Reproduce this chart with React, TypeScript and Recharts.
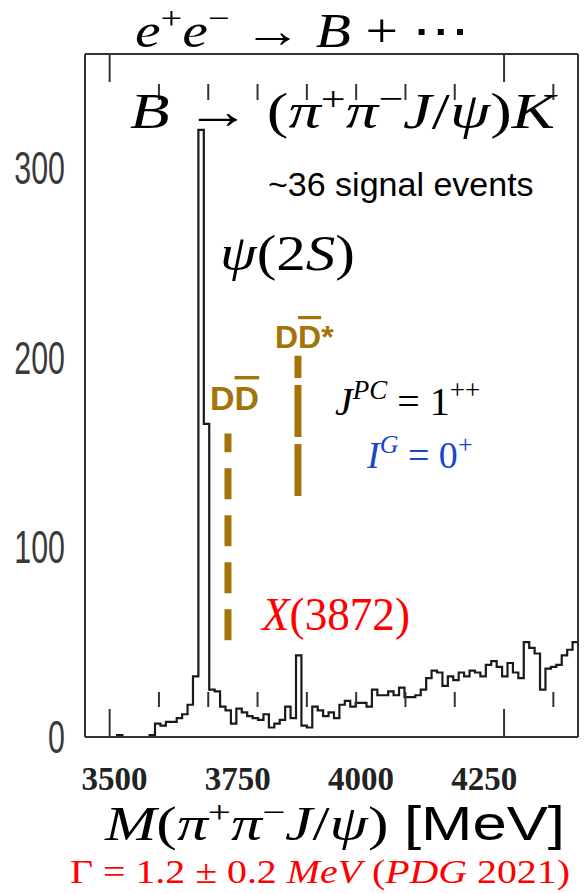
import React from "react";
import { LineChart, Line, XAxis, YAxis, ReferenceLine } from "recharts";

// histogram of M(pi+ pi- J/psi), bins
const binStart = 3450;
const binWidth = 11;
const counts = [
  0, 0, 0, 0, 0, 1, 0, 0, 0, 0, 0,
  1, 7, 6, 8, 8, 10, 12, 17, 32, 320, 165,
  25, 24, 16, 14, 7, 15, 13, 11, 10, 9, 12, 5, 7, 9, 16, 10,
  43,
  6, 5, 16, 14, 11, 13, 10, 17, 19, 16, 18, 18, 16, 25, 22, 22, 24, 22, 26, 21,
  21, 22, 25, 31, 35, 34, 27, 32, 30, 34, 32, 35, 34, 32, 38, 40, 37, 32, 39, 34,
  31, 50, 47, 44, 25, 36, 37, 38, 43, 46, 50,
];

const xDomain = [3440, 4440];
const yDomain = [0, 360];
const xLabelTicks = [3500, 3750, 4000, 4250];
const xMajorTicks = [3490, 4290];
const xMinorTicks = [3590, 3690, 3790, 3890, 3990, 4090, 4190, 4390];
const yLabelTicks = [0, 100, 200, 300];
const yMajorTicks = [100, 200, 300];
const yMinorTicks = [20, 40, 60, 80, 120, 140, 160, 180, 220, 240, 260, 280, 320, 340];

// D Dbar and D Dbar* thresholds (MeV) with the y range of the dashed marker
const thresholds = [
  { m: 3730, from: 51, to: 160 },
  { m: 3872, from: 127, to: 201 },
];

const hist = [
  { m: xDomain[0], n: 0 },
  ...counts.map((c, i) => ({ m: binStart + i * binWidth, n: c })),
  { m: binStart + counts.length * binWidth, n: counts[counts.length - 1] },
];

const SERIF = "'Liberation Serif', 'DejaVu Serif', serif";
const SANS = "'Liberation Sans', Arial, sans-serif";
const FRAME = "#333";
const GOLD = "#A37408";
const BLUE = "#1846C9";
const RED = "#FF0000";

const YTick = ({ x, y, payload }: any) => (
  <text
    transform={`translate(${x - 20},${y + 16}) scale(0.66,1)`}
    textAnchor="end"
    fontFamily={SANS}
    fontSize={46}
    fill="#3a3a3a"
  >
    {payload.value}
  </text>
);

const XTick = ({ x, y, payload }: any) => (
  <text
    x={x}
    y={y + 53}
    textAnchor="middle"
    fontFamily={SERIF}
    fontWeight="bold"
    fontSize={33}
    fill="#222"
  >
    {payload.value}
  </text>
);

const NoLabel = () => <g />;

const line = { stroke: FRAME, strokeWidth: 2 };

function Notes() {
  const it = { fontStyle: "italic" as const };
  const fit = "spacingAndGlyphs";
  return (
    <svg
      width={584}
      height={894}
      style={{ position: "absolute", left: 0, top: 0, pointerEvents: "none" }}
    >
      <g fontFamily={SERIF} fill="#000" style={{ whiteSpace: "pre" }}>
        <text x={135} y={47} fontSize={48} textLength={335} lengthAdjust={fit}>
          <tspan {...it}>e</tspan>
          <tspan dy={-18} fontSize={32}>+</tspan>
          <tspan dy={18} {...it}>e</tspan>
          <tspan dy={-18} fontSize={32}>−</tspan>
          <tspan dy={18}> → </tspan>
          <tspan {...it}>B</tspan>
          <tspan> + ⋯</tspan>
        </text>
        <text x={130} y={128} fontSize={50} textLength={425} lengthAdjust={fit}>
          <tspan {...it}>B</tspan>
          <tspan> → (</tspan>
          <tspan {...it}>π</tspan>
          <tspan dy={-18} fontSize={34}>+</tspan>
          <tspan dy={18} {...it}>π</tspan>
          <tspan dy={-18} fontSize={34}>−</tspan>
          <tspan dy={18} {...it}>J</tspan>
          <tspan>/</tspan>
          <tspan {...it}>ψ</tspan>
          <tspan>)</tspan>
          <tspan {...it}>K</tspan>
        </text>
        <text x={268} y={196} fontFamily={SANS} fontSize={34}>
          ~36 signal events
        </text>
        <text x={220} y={270} fontSize={50} textLength={135} lengthAdjust={fit}>
          <tspan {...it}>ψ</tspan>
          <tspan>(2</tspan>
          <tspan {...it}>S</tspan>
          <tspan>)</tspan>
        </text>
        <text x={335} y={415} fontSize={40}>
          <tspan {...it}>J</tspan>
          <tspan dy={-16} fontSize={27} {...it}>PC</tspan>
          <tspan dy={16}> = 1</tspan>
          <tspan dy={-16} fontSize={27}>++</tspan>
        </text>
        <text x={367} y={468} fontSize={38} fill={BLUE}>
          <tspan {...it}>I</tspan>
          <tspan dy={-15} fontSize={26} {...it}>G</tspan>
          <tspan dy={15}> = 0</tspan>
          <tspan dy={-15} fontSize={26}>+</tspan>
        </text>
        <text x={262} y={630} fontSize={47} fill={RED} textLength={148} lengthAdjust={fit}>
          <tspan {...it}>X</tspan>
          <tspan>(3872)</tspan>
        </text>
        <text x={105} y={840} fontSize={48} textLength={460} lengthAdjust={fit}>
          <tspan {...it}>M</tspan>
          <tspan>(</tspan>
          <tspan {...it}>π</tspan>
          <tspan dy={-17} fontSize={32}>+</tspan>
          <tspan dy={17} {...it}>π</tspan>
          <tspan dy={-17} fontSize={32}>−</tspan>
          <tspan dy={17} {...it}>J</tspan>
          <tspan>/</tspan>
          <tspan {...it}>ψ</tspan>
          <tspan>) </tspan>
          <tspan fontFamily={SANS}>[MeV]</tspan>
        </text>
        <text x={70} y={883} fontSize={33} fill={RED} textLength={500} lengthAdjust={fit}>
          <tspan>Γ = 1.2 ± 0.2 </tspan>
          <tspan {...it}>MeV</tspan>
          <tspan> (</tspan>
          <tspan {...it}>PDG</tspan>
          <tspan> 2021)</tspan>
        </text>
      </g>
      <g fontFamily={SANS} fontWeight="bold" fill={GOLD}>
        <text x={275} y={348} fontSize={32}>
          <tspan>D</tspan>
          <tspan style={{ textDecoration: "overline" }}>D</tspan>
          <tspan>*</tspan>
        </text>
        <text x={210} y={410} fontSize={34}>
          <tspan>D</tspan>
          <tspan style={{ textDecoration: "overline" }}>D</tspan>
        </text>
      </g>
    </svg>
  );
}

export default function App() {
  return (
    <div style={{ position: "absolute", left: 0, top: 0, width: 584, height: 894, background: "#fff" }}>
      <LineChart
        width={584}
        height={894}
        data={hist}
        margin={{ top: 54, right: 6, bottom: 97, left: 15 }}
      >
        <XAxis
          xAxisId="lab"
          dataKey="m"
          type="number"
          domain={xDomain}
          ticks={xLabelTicks}
          interval={0}
          height={60}
          tickSize={0}
          tickMargin={0}
          axisLine={false}
          tickLine={false}
          tick={<XTick />}
        />
        <XAxis xAxisId="bMaj" dataKey="m" type="number" domain={xDomain} ticks={xMajorTicks} interval={0}
          mirror tickSize={28} tick={<NoLabel />} axisLine={line} tickLine={line} />
        <XAxis xAxisId="bMin" dataKey="m" type="number" domain={xDomain} ticks={xMinorTicks} interval={0}
          mirror tickSize={15} tick={<NoLabel />} axisLine={false} tickLine={line} />
        <XAxis xAxisId="tMaj" orientation="top" dataKey="m" type="number" domain={xDomain} ticks={xMajorTicks}
          interval={0} mirror tickSize={28} tick={<NoLabel />} axisLine={line} tickLine={line} />
        <XAxis xAxisId="tMin" orientation="top" dataKey="m" type="number" domain={xDomain} ticks={xMinorTicks}
          interval={0} mirror tickSize={16} tick={<NoLabel />} axisLine={false} tickLine={line} />
        <YAxis
          yAxisId="lab"
          type="number"
          domain={yDomain}
          ticks={yLabelTicks}
          interval={0}
          width={70}
          tickSize={0}
          tickMargin={0}
          axisLine={false}
          tickLine={false}
          tick={<YTick />}
        />
        <YAxis yAxisId="lMaj" type="number" domain={yDomain} ticks={yMajorTicks} interval={0}
          mirror tickSize={22} tick={<NoLabel />} axisLine={line} tickLine={line} />
        <YAxis yAxisId="lMin" type="number" domain={yDomain} ticks={yMinorTicks} interval={0}
          mirror tickSize={11} tick={<NoLabel />} axisLine={false} tickLine={line} />
        <YAxis yAxisId="rMaj" orientation="right" type="number" domain={yDomain} ticks={yMajorTicks} interval={0}
          mirror tickSize={22} tick={<NoLabel />} axisLine={line} tickLine={line} />
        <YAxis yAxisId="rMin" orientation="right" type="number" domain={yDomain} ticks={yMinorTicks} interval={0}
          mirror tickSize={11} tick={<NoLabel />} axisLine={false} tickLine={line} />
        {thresholds.map((t) => (
          <ReferenceLine
            key={t.m}
            xAxisId="lab"
            yAxisId="lab"
            segment={[{ x: t.m, y: t.from }, { x: t.m, y: t.to }]}
            stroke={GOLD}
            strokeWidth={7}
            strokeDasharray={t.m < 3800 ? "31 16" : "52 7"}
          />
        ))}
        <Line
          xAxisId="lab"
          yAxisId="lab"
          dataKey="n"
          type="stepAfter"
          stroke="#1a1a1a"
          strokeWidth={2.2}
          dot={false}
          isAnimationActive={false}
        />
      </LineChart>
      <Notes />
    </div>
  );
}
